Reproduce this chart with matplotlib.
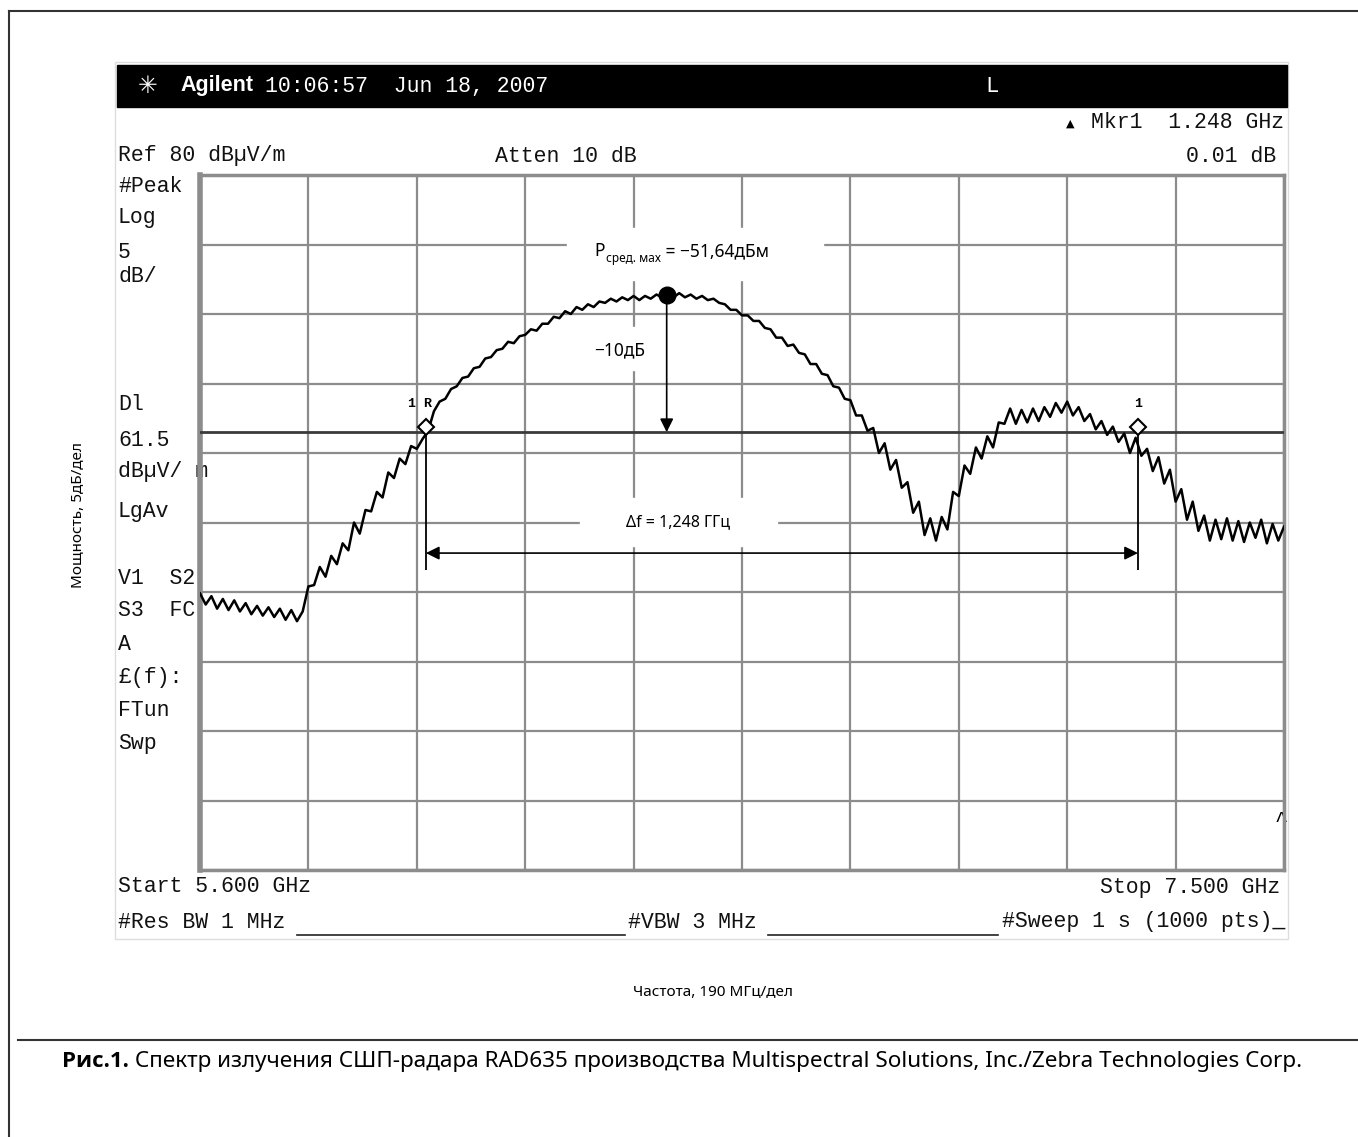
import numpy as np
import matplotlib.pyplot as plt
from matplotlib.patches import Rectangle

levels = [
    49.9, 49.1, 49.7, 48.8, 49.5, 48.7, 49.4, 48.6, 49.2, 48.4,
    49.0, 48.3, 48.9, 48.2, 48.8, 48.0, 48.7, 47.9, 48.6,
    50.4, 50.5, 51.8, 51.1, 52.6, 52.0, 53.5, 53.0, 55.0, 54.2,
    55.9, 55.8, 57.2, 56.8, 58.6, 58.2, 59.6, 59.2, 60.5, 60.3, 61.0, 61.6,
    63.0, 63.7, 63.9, 64.6, 64.8, 65.4, 65.5, 66.1, 66.2, 66.8,
    66.9, 67.4, 67.5, 68.0, 67.9, 68.4, 68.5, 68.9, 68.8, 69.3,
    69.3, 69.8, 69.7, 70.2, 70.0, 70.5, 70.3, 70.7, 70.5, 70.9,
    70.8, 71.1, 70.9, 71.2, 71.0, 71.3, 71.0, 71.3, 71.1, 71.4,
    71.2, 71.4, 71.2, 71.5, 71.2, 71.4, 71.1, 71.3, 71.0, 71.1,
    70.8, 70.7, 70.3, 70.3, 69.9, 69.9, 69.5, 69.5, 69.0, 68.9,
    68.3, 68.3, 67.7, 67.8, 67.2, 67.1, 66.4, 66.4, 65.7, 65.6,
    64.8, 64.7, 63.9, 63.8, 62.7, 62.7, 61.6,
    61.8, 60.0, 60.7, 58.8, 59.5, 57.5, 57.9, 55.7, 56.5, 54.1, 55.3, 53.7, 55.4,
    54.5, 57.2, 56.9, 59.1, 58.5, 60.4, 59.6, 61.2, 60.4, 62.2,
    62.1, 63.2, 62.1, 63.1, 62.2, 63.2, 62.3, 63.3, 62.6, 63.6,
    62.9, 63.7, 62.7, 63.3, 62.3, 62.8, 61.7, 62.3, 61.3, 61.9, 60.8, 61.4, 60.0,
    61.1, 59.8, 60.3, 58.7, 59.7, 57.8, 58.8, 56.5, 57.4, 55.2,
    56.5, 54.4, 55.5, 53.7, 55.2, 53.8, 55.3, 53.7, 55.1, 53.6,
    55.0, 53.9, 55.2, 53.5, 54.9, 53.7, 54.7,
]
f_start, f_stop = 5.6, 7.5
ref_level, db_per_div = 80, 5
display_line = 61.5
f_peak, p_peak = 6.418, 71.4
f_mkr_r, f_mkr_1 = 5.996, 7.244
mkr_level = 61.9

freq = np.linspace(f_start, f_stop, len(levels))

W, H = 1358, 1137
MONO = 'Liberation Mono'
SANS = 'Noto Sans'

fig = plt.figure(figsize=(W / 100, H / 100), dpi=100)

# подложка в пикселях
bg = fig.add_axes([0, 0, 1, 1])
bg.set_xlim(0, W)
bg.set_ylim(H, 0)
bg.axis('off')

bg.plot([9, 9], [11, H], color='#333333', lw=1.5)
bg.plot([9, W], [11, 11], color='#333333', lw=1.5)
bg.plot([18, W], [1040, 1040], color='#333333', lw=1.5)
bg.add_patch(Rectangle((115, 62), 1173, 877, fill=False, ec='#dddddd', lw=1))
bg.add_patch(Rectangle((117, 65), 1170, 42, color='black'))

# шапка
bg.text(138, 86, '✳', color='white', fontsize=17, family='DejaVu Sans', va='center')
bg.text(180, 86, 'Agilent', color='white', fontsize=15.5, family='Liberation Sans',
        weight='bold', va='center')
bg.text(265, 86, '10:06:57  Jun 18, 2007', color='white', fontsize=15.5, family=MONO,
        va='center')
bg.text(992, 86, 'L', color='white', fontsize=16, family=MONO, va='center', ha='center')

mono_kw = dict(fontsize=15.5, family=MONO, va='center', color='#111111')
bg.text(1066, 124, '▲', fontsize=8, family='DejaVu Sans', va='center')
bg.text(1284, 122, 'Mkr1  1.248 GHz', ha='right', **mono_kw)
bg.text(118, 156, 'Ref 80 dBµV/m', **mono_kw)
bg.text(495, 156, 'Atten 10 dB', **mono_kw)
bg.text(1276, 156, '0.01 dB', ha='right', **mono_kw)

left_col = [('#Peak', 186), ('Log', 218), ('5', 252), ('dB/', 276),
            ('Dl', 405), ('61.5', 440), ('dBµV/ m', 472), ('LgAv', 512),
            ('V1  S2', 578), ('S3  FC', 611), ('A', 644), ('£(f):', 677),
            ('FTun', 710), ('Swp', 743)]
for txt, yy in left_col:
    bg.text(118, yy, txt, **mono_kw)

bg.text(118, 887, 'Start 5.600 GHz', **mono_kw)
bg.text(1280, 887, 'Stop 7.500 GHz', ha='right', **mono_kw)
bg.text(118, 922, '#Res BW 1 MHz', **mono_kw)
bg.text(628, 922, '#VBW 3 MHz', **mono_kw)
bg.text(1285, 922, '#Sweep 1 s (1000 pts)_', ha='right', **mono_kw)
bg.plot([297, 625], [935, 935], color='#222222', lw=1.2)
bg.plot([768, 998], [935, 935], color='#222222', lw=1.2)
bg.text(1281, 822, '^', fontsize=16, family=MONO, ha='center', va='center')

# подписи осей и рисунка
bg.text(713, 992, 'Частота, 190 МГц/дел', fontsize=11, family=SANS,
        ha='center', va='center')
bg.text(78, 515, 'Мощность, 5дБ/дел', fontsize=11, family=SANS,
        ha='center', va='center', rotation=90)
t_fig = bg.text(62, 1072, 'Рис.1.', fontsize=16, family='Open Sans', weight='bold',
                va='bottom')
bg.annotate(' Спектр излучения СШП-радара RAD635 производства Multispectral '
            'Solutions, Inc./Zebra Technologies Corp.',
            xy=(1, 0), xycoords=t_fig, va='bottom', fontsize=16.2, family=SANS)

# экран анализатора
ax = fig.add_axes([200 / W, 1 - 870 / H, 1084 / W, 695 / H])
ax.set_facecolor('none')
ax.set_xlim(f_start, f_stop)
ax.set_ylim(ref_level - 10 * db_per_div, ref_level)
ax.set_xticks(np.linspace(f_start, f_stop, 11))
ax.set_yticks(np.arange(ref_level - 10 * db_per_div, ref_level + 1, db_per_div))
ax.tick_params(length=0, labelbottom=False, labelleft=False)
ax.grid(True, color='#8c8c8c', lw=1.6)
ax.set_axisbelow(True)
for s in ax.spines.values():
    s.set_color('#8c8c8c')
    s.set_linewidth(2.5)
ax.spines['left'].set_linewidth(4)

ax.axhline(display_line, color='#3a3a3a', lw=2, zorder=3)
ax.plot(freq, levels, color='black', lw=1.8, zorder=4)

# белые плашки под надписями
px_f = (f_stop - f_start) / 1084
px_db = db_per_div * 10 / 695
for x0, x1, y0, y1 in [(567, 823, 228, 280), (580, 777, 498, 546), (588, 652, 327, 370)]:
    ax.add_patch(Rectangle((f_start + (x0 - 200) * px_f, ref_level - (y1 - 175) * px_db),
                           (x1 - x0) * px_f, (y1 - y0) * px_db,
                           color='white', zorder=2))

ax.plot(f_peak, p_peak, 'o', ms=12, color='black', zorder=6)
ax.annotate('', xy=(f_peak, display_line), xytext=(f_peak, p_peak),
            arrowprops=dict(arrowstyle='-|>', color='black', lw=1.2, mutation_scale=20,
                            shrinkA=0, shrinkB=0), zorder=5)

ax.vlines([f_mkr_r, f_mkr_1], 51.6, mkr_level, color='black', lw=1.3, zorder=5)
ax.annotate('', xy=(f_mkr_r, 52.8), xytext=(f_mkr_1, 52.8),
            arrowprops=dict(arrowstyle='<|-|>', color='black', lw=1.2, mutation_scale=20,
                            shrinkA=0, shrinkB=0), zorder=5)
ax.plot([f_mkr_r, f_mkr_1], [mkr_level] * 2, 'D', ms=8, mfc='white', mec='black',
        mew=1.5, zorder=7)
ax.annotate('1 R', xy=(f_mkr_r, mkr_level), xytext=(-4, 16), textcoords='offset points',
            ha='center', va='center', fontsize=9.5, family=MONO, weight='bold')
ax.annotate('1', xy=(f_mkr_1, mkr_level), xytext=(0, 16), textcoords='offset points',
            ha='center', va='center', fontsize=9.5, family=MONO, weight='bold')

# надписи на графике
sans_kw = dict(family=SANS, zorder=8)
t_p = ax.text(6.291, 74.5, 'P', fontsize=12.5, va='center', **sans_kw)
t_sub = ax.annotate('сред. мах', xy=(1, 0), xycoords=t_p, xytext=(1, -3),
                    textcoords='offset points', va='bottom', fontsize=8.5, **sans_kw)
ax.annotate(' = −51,64дБм', xy=(1, 0), xycoords=(t_sub, t_p), va='bottom',
            fontsize=12.5, **sans_kw)
ax.text(6.336, 67.4, '−10дБ', fontsize=12.5, ha='center', va='center', **sans_kw)
ax.text(6.438, 55.0, 'Δf = 1,248 ГГц', fontsize=11.5, ha='center', va='center', **sans_kw)

fig.savefig('out.png', dpi=100)
